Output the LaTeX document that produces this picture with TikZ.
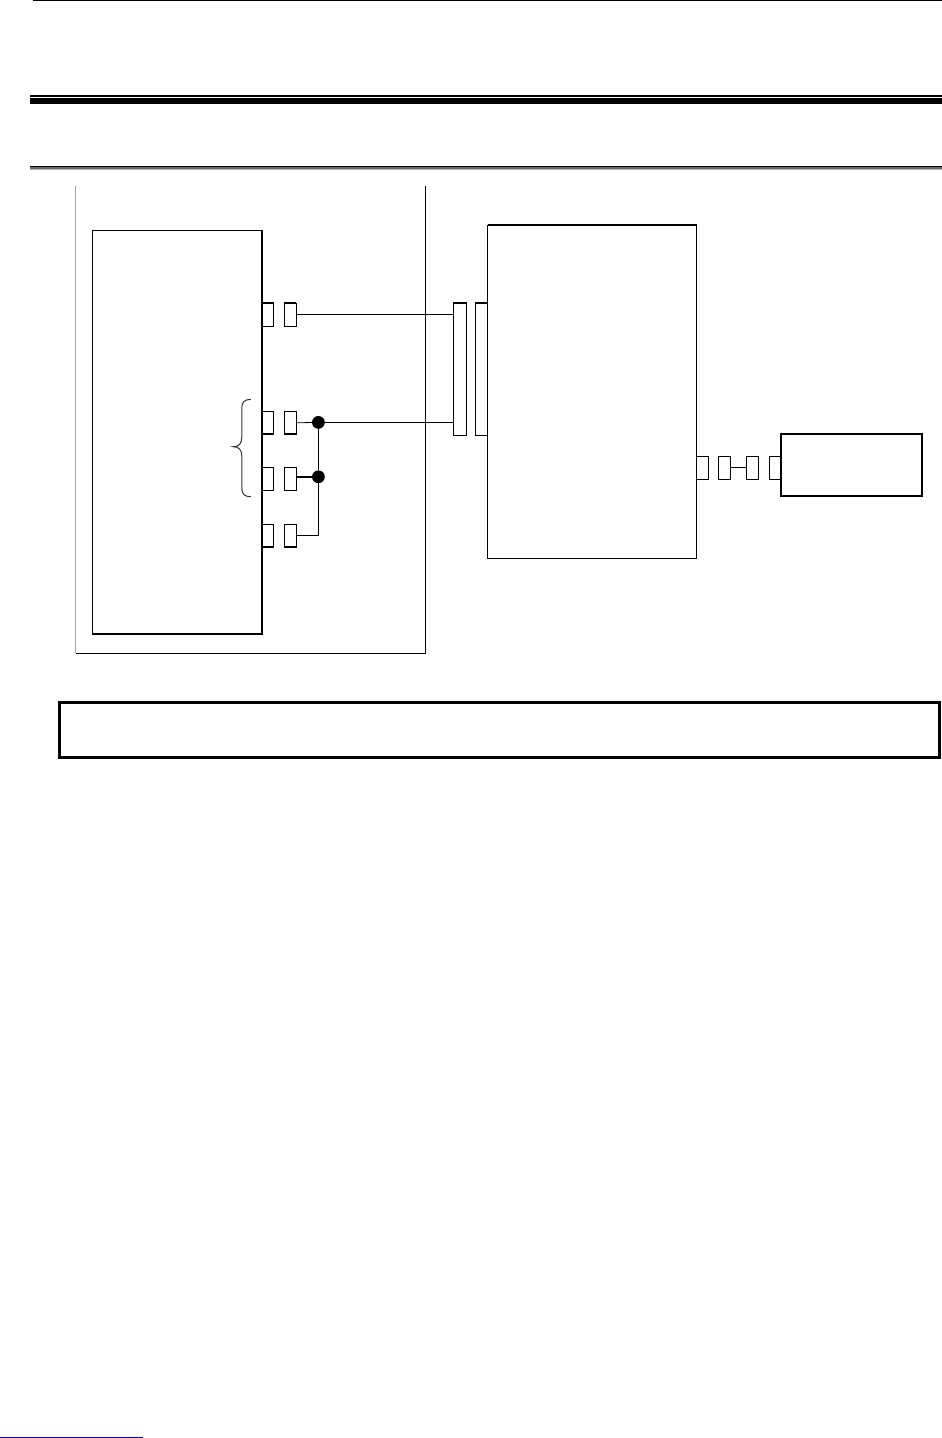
\documentclass[tikz,border=0pt]{standalone}
\usepackage{tikz}
\usetikzlibrary{arrows.meta,positioning,calc}
\definecolor{cEnc}{HTML}{A6A6A6}
\definecolor{cFoot}{HTML}{0000D8}
\begin{document}
\begin{tikzpicture}[x=1pt,y=-1pt,every node/.style={outer sep=0pt,inner sep=0pt},
  wire/.style={line width=.8pt},
  heavy/.style={line width=1.9pt},
  block/.style={draw=black,fill=white,line width=.9pt,anchor=north west},
  port/.style={block,minimum width=11.6pt,minimum height=23pt},
  joint/.style={circle,fill=black,minimum size=12.8pt}]
\useasboundingbox (0,0) rectangle (942,1438);

% page rules
\draw[line width=1.2pt] (33,.6) -- (942,.6);
\draw[line width=1.7pt] (30,95.8) -- (942,95.8);
\draw[line width=6pt] (30,101) -- (942,101);
\draw[line width=1.1pt,black!30] (30,169.8) -- (942,169.8);
\draw[line width=2.4pt,black!60] (30,168.2) -- (942,168.2);
\draw[line width=1.1pt] (30,166.5) -- (942,166.5);
\draw[line width=1pt,cFoot] (0,1437.4) -- (143,1437.4);

% enclosure, open at the top
\draw[line width=.9pt,cEnc] (75.8,186) -- (75.8,653.3);
\draw[wire] (75.8,653.3) -- (425.8,653.3) -- (425.8,186);

% big blocks
\node[block,minimum width=169.7pt,minimum height=404pt] (unit) at (92.3,230) {};
\node[block,minimum width=209pt,minimum height=333pt] (hub) at (487.5,225.3) {};
\node[block,line width=1.8pt,minimum width=141.6pt,minimum height=62.3pt] (device) at (780.7,433.7) {};
\draw[heavy] (unit.north east) -- (unit.south east) -- (unit.south west);
\draw[heavy] (hub.north west) -- (hub.north east);

% ports on the unit
\foreach \n/\y in {a/303.3,b/411.3,c/467.3,d/524.3}
{
  \node[port] (jack\n) at (262,\y) {};
  \node[port] (plug\n) at (284.4,\y) {};
}
% thick edge of some rows
\foreach \n/\e in {a/north,b/south,d/south}
{
  \draw[heavy] (jack\n.\e\space west) -- (jack\n.\e\space east);
  \draw[heavy] (plug\n.\e\space west) -- (plug\n.\e\space east);
}

% long connector pair
\node[block,minimum width=13.2pt,minimum height=132pt] (connA) at (453.4,303.3) {};
\node[block,minimum width=12pt,minimum height=132pt] (connB) at (475.4,303.3) {};
\draw[heavy] (connA.north west) -- (connA.north east);
\draw[heavy] (connB.north west) -- (connB.north east);

% ports towards the device
\foreach \n/\x in {p/696.7,q/718.6,r/746.6,s/769.2}
  \node[port] (out\n) at (\x,456) {};
\draw[line width=1.4pt] (outq.north west) -- (outq.south west);
\draw[line width=1.4pt] (outr.north west) -- (outr.south west);

% joints
\node[joint] (dotB) at (318.4,422.4) {};
\node[joint] (dotC) at (318.4,476.8) {};

% wiring
\draw[wire] (pluga.east) -- (pluga.east -| connA.west);
\draw[wire] (plugb.east) -- (dotB) -- (dotB -| connA.west);
\draw[wire] (dotB) -- (dotC);
\draw[heavy] (plugc.east |- dotC) -- (dotC);
\draw[wire] (plugd.east) -| (dotC);
\draw[wire] (outq.east) -- (outr.west);

% brace over two of the ports
\draw[line width=1pt,black!80] (250.8,399.4) .. controls (244.5,399.4) and (241.8,402) .. (241.8,408)
  -- (241.8,437) .. controls (241.8,443.5) and (239,446.7) .. (233.2,446.7)
  .. controls (239,446.7) and (241.8,450) .. (241.8,456)
  -- (241.8,488) .. controls (241.8,494) and (244.5,496.7) .. (250.8,496.7);

% note frame
\node[block,line width=3pt,minimum width=879.5pt,minimum height=54.7pt] (note) at (59.8,702.5) {};
\end{tikzpicture}
\end{document}
